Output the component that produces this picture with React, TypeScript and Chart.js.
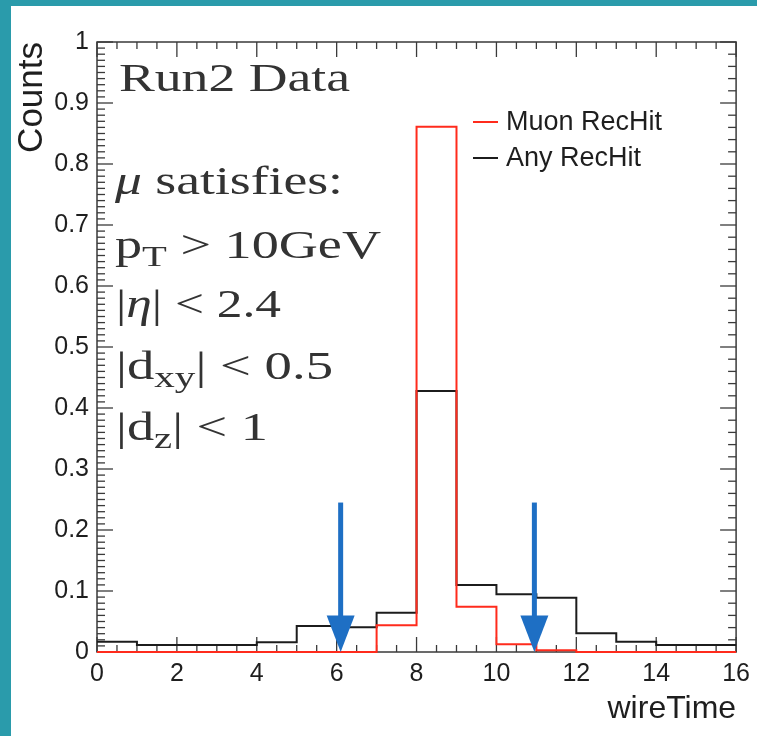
import React, { useEffect, useRef } from 'react';
import { Chart, registerables } from 'chart.js';

Chart.register(...registerables);

// ---- data ----
const binEdges = [0, 1, 2, 3, 4, 5, 6, 7, 8, 9, 10, 11, 12, 13, 14, 15, 16];
const muonRecHit = [0, 0, 0, 0, 0, 0, 0, 0.044, 0.861, 0.074, 0.0126, 0.003, 0, 0, 0, 0];
const anyRecHit = [0.017, 0.0115, 0.0115, 0.0115, 0.016, 0.0426, 0.0404, 0.0645, 0.428, 0.11, 0.0946, 0.089, 0.0306, 0.0169, 0.0115, 0.0115];
const seriesLabels = ['Muon RecHit', 'Any RecHit'];
const seriesColors = ['#ff2b1c', '#1c1c1c'];
const arrowX = [6.1, 10.95];
const arrowTop = 0.245;
const arrowHeadTop = 0.06;
const xAxisTitle = 'wireTime';
const yAxisTitle = 'Counts';

type Seg = { t: string; i?: boolean; sub?: boolean };
const noteLines: Seg[][] = [
  [{ t: 'Run2 Data' }],
  [{ t: 'μ', i: true }, { t: ' satisfies:' }],
  [{ t: 'p' }, { t: 'T', sub: true }, { t: ' > 10GeV' }],
  [{ t: '|' }, { t: 'η', i: true }, { t: '| < 2.4' }],
  [{ t: '|d' }, { t: 'xy', sub: true }, { t: '| < 0.5' }],
  [{ t: '|d' }, { t: 'z', sub: true }, { t: '| < 1' }],
];

const SANS = '"Liberation Sans", Arial, Helvetica, sans-serif';
const SERIF = '"Liberation Serif", "Times New Roman", serif';

// point at each bin's lower edge carries that bin's value; the last edge repeats the last bin
function stepPoints(values: number[]) {
  return binEdges.map((e, i) => ({ x: e, y: values[Math.min(i, values.length - 1)] }));
}

function line(ctx: CanvasRenderingContext2D, x1: number, y1: number, x2: number, y2: number) {
  ctx.beginPath();
  ctx.moveTo(x1, y1);
  ctx.lineTo(x2, y2);
  ctx.stroke();
}

const framePlugin = {
  id: 'rootFrame',
  beforeDatasetsDraw(chart: any) {
    const { ctx, chartArea: a, scales } = chart;
    const x = scales.x;
    const y = scales.y;
    ctx.save();
    ctx.strokeStyle = '#3a3a3a';
    ctx.lineWidth = 1.5;
    ctx.strokeRect(a.left, a.top, a.right - a.left, a.bottom - a.top);
    ctx.lineWidth = 1.3;
    for (let k = 0; k <= 32; k++) {
      const px = x.getPixelForValue(k * 0.5);
      const len = k % 4 === 0 ? 15 : 7;
      line(ctx, px, a.bottom, px, a.bottom - len);
      line(ctx, px, a.top, px, a.top + len);
    }
    for (let k = 0; k <= 100; k++) {
      const py = y.getPixelForValue(k / 100);
      const len = k % 10 === 0 ? 16 : 8;
      line(ctx, a.left, py, a.left + len, py);
      if (k % 2 === 0) line(ctx, a.right, py, a.right - len, py);
    }
    ctx.restore();
  },
};

function drawRich(ctx: CanvasRenderingContext2D, segs: Seg[], x: number, base: number, size: number, width: number) {
  const items = segs.map((s) => {
    const fs = s.sub ? size * 0.75 : size;
    const font = `${s.i ? 'italic ' : ''}${fs}px ${SERIF}`;
    ctx.font = font;
    return { s, font, w: ctx.measureText(s.t).width, dy: s.sub ? size * 0.2 : 0 };
  });
  const total = items.reduce((acc, it) => acc + it.w, 0);
  ctx.save();
  ctx.translate(x, base);
  ctx.scale(width / total, 1);
  let cx = 0;
  for (const it of items) {
    ctx.font = it.font;
    ctx.fillText(it.s.t, cx, it.dy);
    cx += it.w;
  }
  ctx.restore();
}

const noteLayout = [
  { x: 119, base: 91, w: 231 },
  { x: 115, base: 194, w: 228 },
  { x: 115, base: 258, w: 266 },
  { x: 116, base: 317, w: 165 },
  { x: 116, base: 379, w: 217 },
  { x: 116, base: 440, w: 152 },
];

const overlayPlugin = {
  id: 'overlay',
  afterDatasetsDraw(chart: any) {
    const { ctx, scales } = chart;
    const x = scales.x;
    const y = scales.y;
    ctx.save();
    // arrows
    ctx.strokeStyle = '#1e6fc4';
    ctx.fillStyle = '#1e6fc4';
    ctx.lineWidth = 5;
    for (const ax of arrowX) {
      const px = x.getPixelForValue(ax);
      const pTop = y.getPixelForValue(arrowTop);
      const pHead = y.getPixelForValue(arrowHeadTop);
      const pTip = y.getPixelForValue(0);
      line(ctx, px, pTop, px, pHead + 2);
      ctx.beginPath();
      ctx.moveTo(px - 14, pHead);
      ctx.lineTo(px + 14, pHead);
      ctx.lineTo(px, pTip);
      ctx.closePath();
      ctx.fill();
    }
    // notes
    ctx.fillStyle = '#333333';
    ctx.textBaseline = 'alphabetic';
    ctx.textAlign = 'left';
    noteLines.forEach((segs, i) => {
      const l = noteLayout[i];
      drawRich(ctx, segs, l.x, l.base, 40, l.w);
    });
    // legend
    const ds = chart.data.datasets;
    const legendY = [122, 158];
    ctx.font = `27px ${SANS}`;
    ctx.textBaseline = 'middle';
    ds.forEach((d: any, i: number) => {
      ctx.strokeStyle = d.borderColor;
      ctx.lineWidth = 2;
      line(ctx, 473, legendY[i], 498, legendY[i]);
      ctx.fillStyle = '#1e1e1e';
      ctx.fillText(d.label, 506, legendY[i] + 1);
    });
    ctx.restore();
  },
};

export default function App() {
  const ref = useRef<HTMLCanvasElement>(null);
  useEffect(() => {
    if (!ref.current) return;
    const chart = new Chart(ref.current, {
      type: 'line',
      data: {
        datasets: [
          {
            label: seriesLabels[0],
            data: stepPoints(muonRecHit),
            borderColor: seriesColors[0],
            borderWidth: 2,
            stepped: 'before',
            pointRadius: 0,
            fill: false,
            clip: false,
          } as any,
          {
            label: seriesLabels[1],
            data: stepPoints(anyRecHit),
            borderColor: seriesColors[1],
            borderWidth: 2,
            stepped: 'before',
            pointRadius: 0,
            fill: false,
            clip: false,
          } as any,
        ],
      },
      options: {
        responsive: false,
        animation: false,
        devicePixelRatio: 1,
        layout: { padding: { top: 42, right: 19, left: 0, bottom: 0 } },
        plugins: { legend: { display: false }, tooltip: { enabled: false } },
        scales: {
          x: {
            type: 'linear',
            min: 0,
            max: 16,
            grid: { display: false, drawTicks: false },
            border: { display: false },
            ticks: { stepSize: 2, autoSkip: false, maxRotation: 0, padding: 7, color: '#1e1e1e', font: { family: SANS, size: 25 } },
            title: { display: true, text: xAxisTitle, align: 'end', color: '#1e1e1e', font: { family: SANS, size: 32 }, padding: { top: 0, bottom: 8 } },
            afterFit: (s: any) => { s.height = 84; },
          },
          y: {
            type: 'linear',
            min: 0,
            max: 1,
            grid: { display: false, drawTicks: false },
            border: { display: false },
            ticks: {
              stepSize: 0.1,
              autoSkip: false,
              padding: 8,
              color: '#1e1e1e',
              font: { family: SANS, size: 25 },
              callback: (v: any) => String(Number(Number(v).toFixed(1))),
            },
            title: { display: true, text: yAxisTitle, align: 'end', color: '#1e1e1e', font: { family: SANS, size: 35 }, padding: { top: 11, bottom: 0 } },
            afterFit: (s: any) => { s.width = 97; },
          },
        },
      } as any,
      plugins: [framePlugin, overlayPlugin],
    });
    return () => chart.destroy();
  }, []);
  return (
    <div style={{ position: 'fixed', left: 0, top: 0, width: 757, height: 736, background: '#2a9bab', overflow: 'hidden' }}>
      <div style={{ position: 'absolute', left: 11, top: 6, right: 0, bottom: 0, background: '#ffffff' }} />
      <canvas ref={ref} width={757} height={736} style={{ position: 'absolute', left: 0, top: 0 }} />
    </div>
  );
}
